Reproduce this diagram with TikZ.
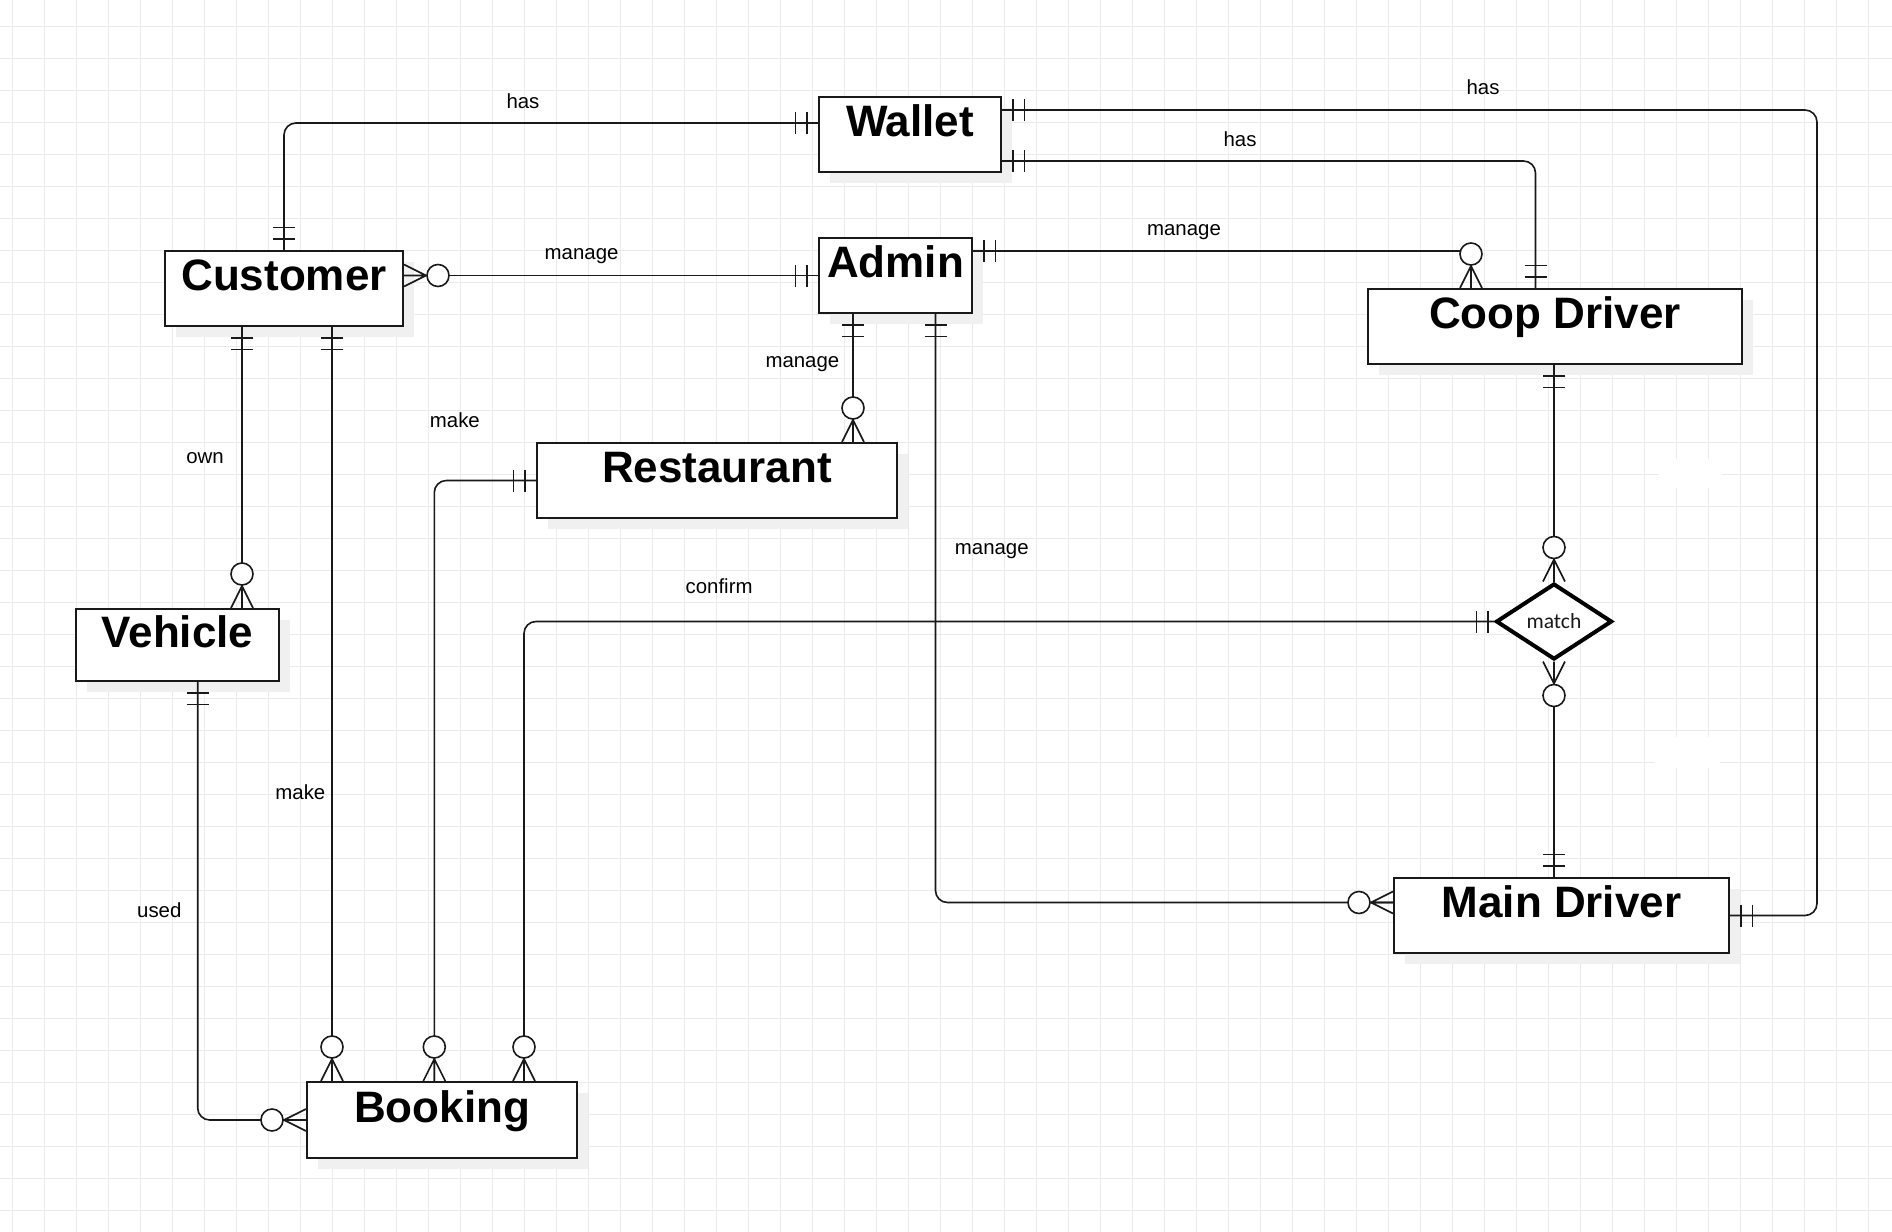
\documentclass[tikz,border=0pt]{standalone}
\usepackage{fontspec}
\setmainfont{Liberation Sans}
\newfontfamily\calib{Carlito}
\usetikzlibrary{shapes.geometric,calc,shadows}
\tikzset{
  gridc/.style={draw=black!8, line width=0.5pt},
  conn/.style={draw=black!90, line width=0.8pt},
  entity/.style={draw=black!90, line width=1pt, fill=white, inner sep=0pt,
    text height=19.9pt, text depth=17.6pt, anchor=north,
    font=\fontsize{22}{26}\selectfont\bfseries,
    drop shadow={shadow xshift=5.5pt, shadow yshift=-5.5pt, fill=black!6, opacity=1}},
  lbl/.style={anchor=base, inner sep=0pt, font=\fontsize{10.2}{12}\selectfont},
}
\newcommand{\erone}[3][11]{\begin{scope}[shift={#2},rotate=#3]
  \draw[conn] (#1,-11)--(#1,11) ({#1+11.5},-11)--({#1+11.5},11);\end{scope}}
\newcommand{\ermany}[2]{\begin{scope}[shift={#1},rotate=#2]
  \draw[conn] (0,-11)--(22,0)--(0,11) (0,0)--(22,0);
  \draw[conn,fill=white] (34,0) circle[radius=5.5pt];\end{scope}}
\begin{document}
\begin{tikzpicture}[x=0.5pt,y=-0.5pt]
\fill[white] (0,0) rectangle (1892,1232);
\useasboundingbox (0,0) rectangle (1892,1232);
% grid
\foreach \i in {0,...,58} \draw[gridc] ({12.3+32*\i},0) -- ++(0,1232);
\foreach \j in {0,...,37} \draw[gridc] (0,{26.3+32*\j}) -- ++(1892,0);
\fill[white] (1659,458.7) rectangle (1722,488.3);
\fill[white] (1655,736.7) rectangle (1720,768.3);

% entities
\node[entity, minimum width=91pt] (wallet) at (910,96) {Wallet};
\node[entity, minimum width=119pt] (cust) at (284,250) {Customer};
\node[entity, minimum width=76.5pt] (admin) at (895.5,237) {Admin};
\node[entity, minimum width=187pt] (coop) at (1555,288) {Coop Driver};
\node[entity, minimum width=180pt] (rest) at (717,442) {Restaurant};
\node[entity, minimum width=101.5pt, text height=19.2pt, text depth=16.8pt] (veh) at (177.5,608) {Vehicle};
\node[entity, minimum width=135pt, text height=20.2pt, text depth=17.8pt] (book) at (442,1081) {Booking};
\node[entity, minimum width=167.5pt] (main) at (1561.5,877) {Main Driver};
\node[draw=black, line width=2pt, fill=white, diamond, minimum width=58pt, minimum height=38pt,
  inner sep=0pt, font=\calib\fontsize{10.8}{12}\selectfont, text=black!90] (match) at (1554,621.5) {match};

% attachment points
\coordinate (wA) at ($(wallet.west)+(0,-11.5)$);
\coordinate (wB) at ($(wallet.east)+(0,-24.5)$);
\coordinate (wC) at ($(wallet.east)+(0,26.5)$);
\coordinate (rx) at ($(main.east)+(87,0)$);
\coordinate (cA) at ($(coop.north)+(-19.5,0)$);
\coordinate (cB) at ($(coop.north)+(-84,0)$);
\coordinate (aA) at ($(admin.east)+(0,-24.5)$);
\coordinate (aB) at ($(admin.south)+(-42.5,0)$);
\coordinate (aC) at ($(admin.south)+(40,0)$);
\coordinate (mA) at ($(main.west)+(0,-13)$);
\coordinate (uA) at ($(cust.south)+(-42,0)$);
\coordinate (uB) at ($(cust.south)+(48,0)$);
\coordinate (bA) at ($(book.north)+(-7.7,0)$);
\coordinate (bB) at ($(book.north)+(82,0)$);
\coordinate (vA) at ($(veh.south)+(20.2,0)$);

% connectors
\draw[conn, rounded corners=6pt] (cust.north) |- (wA);
\draw[conn, rounded corners=6pt] (wB) -| (rx) -- (main.east);
\draw[conn, rounded corners=6pt] (wC) -| (cA);
\draw[conn] (admin.west) -- (admin.west -| cust.east);
\draw[conn] (aA) -| (cB);
\draw[conn] (aB) -- (aB |- rest.north);
\draw[conn, rounded corners=6pt] (aC) |- (mA);
\draw[conn] (uA) -- (uA |- veh.north);
\draw[conn] (uB) -- (uB |- book.north);
\draw[conn, rounded corners=6pt] (rest.west) -| (bA);
\draw[conn, rounded corners=6pt] (match.west) -| (bB);
\draw[conn, rounded corners=6pt] (vA) |- (book.west);
\draw[conn] (match.north |- coop.south) -- (match.north);
\draw[conn] (match.south) -- (match.south |- main.north);

% markers
\erone{(cust.north)}{90}
\erone{(wA)}{180}
\erone{(wB)}{0}
\erone{(main.east)}{0}
\erone{(wC)}{0}
\erone{(cA)}{90}
\erone{(admin.west)}{180}
\ermany{(admin.west -| cust.east)}{0}
\erone{(aA)}{0}
\ermany{(cB)}{90}
\erone{(aB)}{270}
\ermany{(aB |- rest.north)}{90}
\erone{(aC)}{270}
\ermany{(mA)}{180}
\erone{(uA)}{270}
\ermany{(uA |- veh.north)}{90}
\erone{(uB)}{270}
\ermany{(uB |- book.north)}{90}
\erone{(rest.west)}{180}
\ermany{(bA)}{90}
\erone[6]{(match.west)}{180}
\ermany{(bB)}{90}
\erone{(vA)}{270}
\ermany{(book.west)}{180}
\erone{(match.north |- coop.south)}{270}
\ermany{(match.north)}{90}
\ermany{(match.south)}{270}
\erone{(match.south |- main.north)}{90}

% labels
\node[lbl] (lhas1) at (523,108) {has};
\node[lbl] (lhas2) at (1483,94.5) {has};
\node[lbl] (lhas3) at (1240,146) {has};
\node[lbl] (lman1) at (581.6,259) {manage};
\node[lbl] (lman2) at (1184,235) {manage};
\node[lbl] (lman3) at (802.4,367.6) {manage};
\node[lbl] (lman4) at (991.8,554.6) {manage};
\node[lbl] (lmake1) at (454.9,427) {make};
\node[lbl] (lown) at (205.1,463.5) {own};
\node[lbl] (lconf) at (719.1,593.5) {confirm};
\node[lbl] (lmake2) at (300.4,799) {make};
\node[lbl] (lused) at (159.3,917) {used};
\end{tikzpicture}
\end{document}
